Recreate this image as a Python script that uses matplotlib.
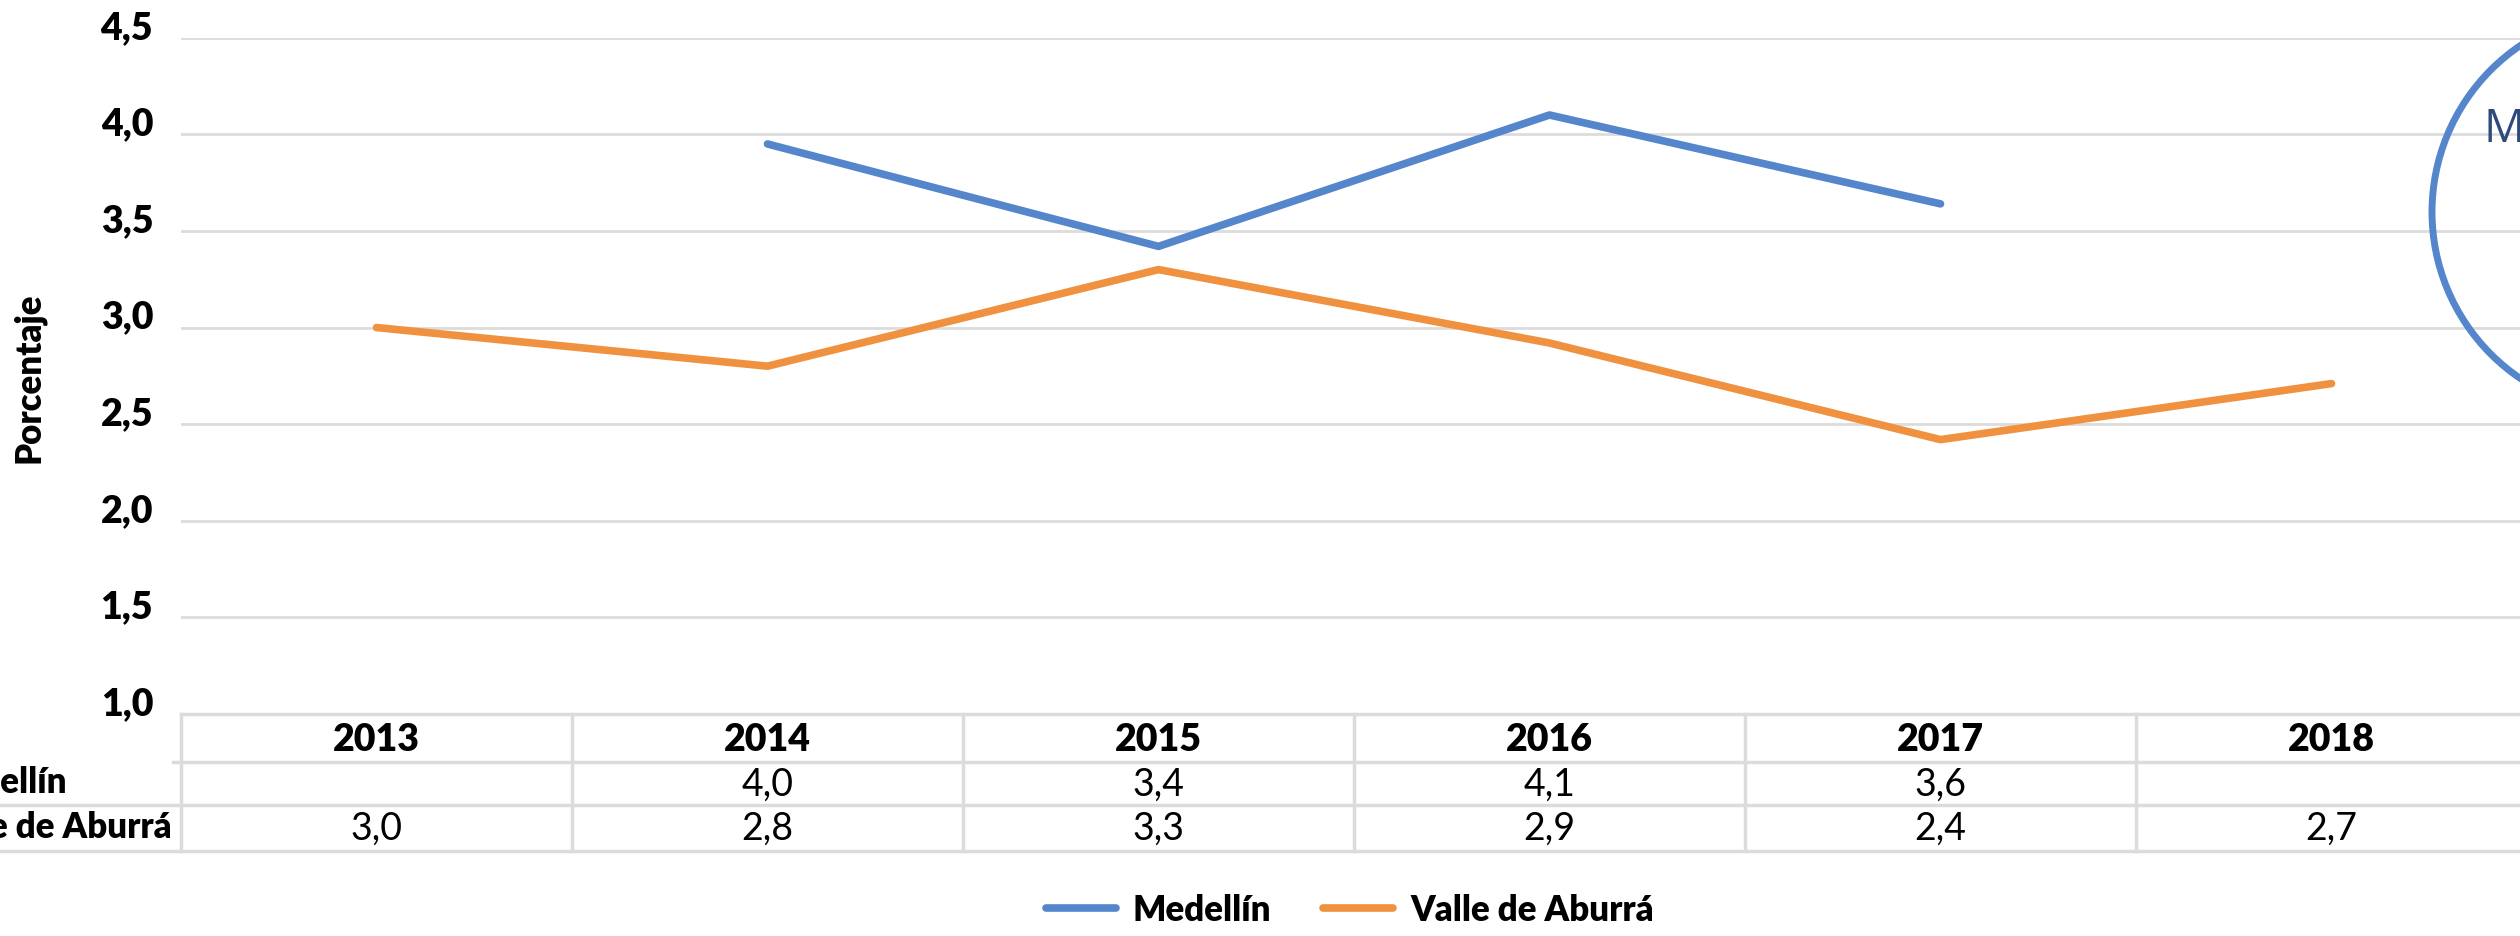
# tasa de desempleo - Medellín vs Valle de Aburrá
import numpy as np
import matplotlib
matplotlib.use('Agg')
import matplotlib.pyplot as plt
from matplotlib.patches import Ellipse

# data
years = ['2013', '2014', '2015', '2016', '2017', '2018']
medellin = [np.nan, 3.95, 3.42, 4.10, 3.64, np.nan]
valle = [3.00, 2.80, 3.30, 2.92, 2.42, 2.71]
medellin_tbl = ['', '4,0', '3,4', '4,1', '3,6', '']
valle_tbl = ['3,0', '2,8', '3,3', '2,9', '2,4', '2,7']
yticks = [1.0, 1.5, 2.0, 2.5, 3.0, 3.5, 4.0, 4.5]

blue = '#5586cc'
orange = '#f0913f'
grid_c = '#dcdcdc'

W, H = 2520, 937
fig = plt.figure(figsize=(W / 100, H / 100), dpi=100)
plt.rcParams['font.family'] = ['Lato', 'DejaVu Sans']

def fx(px):
    return px / W

def fy(py):
    return 1 - py / H

# main plot area
x0, x1 = 181, 2527
ax = fig.add_axes([fx(x0), fy(715), fx(x1) - fx(x0), fy(38.7) - fy(715)])
x = np.arange(len(years))
l1, = ax.plot(x, medellin, color=blue, lw=5.5, solid_capstyle='round', label='Medellín')
l2, = ax.plot(x, valle, color=orange, lw=5.5, solid_capstyle='round', label='Valle de Aburrá')
ax.set_xlim(-0.5, len(years) - 0.5)
ax.set_ylim(1.0, 4.5)
ax.set_yticks(yticks)
ax.set_yticklabels([('%.1f' % v).replace('.', ',') for v in yticks],
                   fontsize=27, fontweight='heavy')
for lab in ax.get_yticklabels():
    lab.set_va('baseline')
ax.tick_params(axis='y', length=0, pad=20)
ax.set_xticks([])
for v in yticks[1:]:
    ax.axhline(v, color=grid_c, lw=2, zorder=0)
for s in ax.spines.values():
    s.set_visible(False)
fig.text(fx(29), fy(378), 'Porcentaje', rotation=90, fontsize=25, fontweight='heavy',
         ha='center', va='center')

# data table under the chart
tb = fig.add_axes([fx(x0), fy(852), fx(x1) - fx(x0), fy(715) - fy(852)])
tb.set_xlim(-0.5, len(years) - 0.5)
tb.set_ylim(3, 0)
tb.axis('off')
row_lines = [0, 1.05, 2.0, 3.0]
for i, r in enumerate(row_lines):
    left = -0.5 if i == 0 else (-0.52 if i == 1 else -1.0)
    tb.plot([left, len(years) - 0.5], [r, r], color=grid_c, lw=2.5, clip_on=False)
for k in range(len(years) + 1):
    tb.plot([k - 0.5, k - 0.5], [0, 3], color=grid_c, lw=2.5, clip_on=False)
for i, yr in enumerate(years):
    tb.text(i, 0.55, yr, ha='center', va='center', fontsize=27, fontweight='heavy')
    tb.text(i, 1.52, medellin_tbl[i], ha='center', va='center', fontsize=27)
    tb.text(i, 2.5, valle_tbl[i], ha='center', va='center', fontsize=27)

# row labels, left aligned in a column that is cut by the left edge
t_valle = fig.text(fx(172), fy(828), 'Valle de Aburrá', ha='right', va='center',
                   fontsize=25, fontweight='heavy')
fig.canvas.draw()
bb = t_valle.get_window_extent()
t_valle.set_ha('left')
t_valle.set_x(bb.x0 / W)
fig.text(bb.x0 / W, fy(783), 'Medellín', ha='left', va='center',
         fontsize=25, fontweight='heavy')

# legend
fig.legend(handles=[l1, l2], loc='center', bbox_to_anchor=(fx(1350), fy(911)),
           ncol=2, frameon=False, prop={'weight': 'heavy', 'size': 25},
           handlelength=2.0, columnspacing=1.5, handletextpad=0.5)

# circle annotation cut off at the right edge
circ = Ellipse((fx(2633), fy(213)), 2 * 201 / W, 2 * 201 / H, transform=fig.transFigure,
               fill=False, edgecolor=blue, lw=5)
fig.patches.append(circ)
fig.text(fx(2484), fy(130), 'M', fontsize=33, color='#2c4a7c', ha='left', va='center',
         family=['Open Sans', 'DejaVu Sans'])

plt.savefig('out.png', dpi=100)
